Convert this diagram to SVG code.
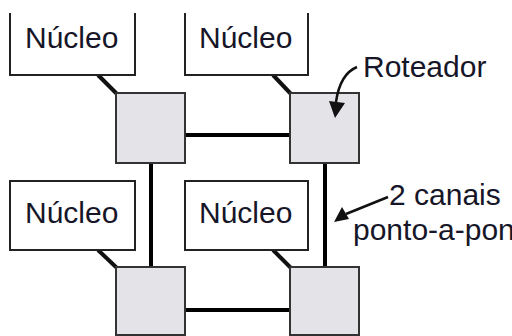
<svg xmlns="http://www.w3.org/2000/svg" width="512" height="336" viewBox="0 0 512 336">
<defs>
<style>
.core{fill:#fff;stroke:#222;stroke-width:2}
.rt{fill:#e4e3e7;stroke:#333;stroke-width:2}
.lk{stroke:#000;stroke-width:4;fill:none}
.dg{stroke:#111;stroke-width:4;fill:none}
.t{font-family:"Liberation Sans",Arial,sans-serif;font-size:30px;fill:#161628}
.ar{stroke:#111;stroke-width:2.5;fill:none}
</style>
</defs>
<rect width="512" height="336" fill="#fff"/>
<g id="connectors">
<line class="lk" x1="185" y1="135" x2="290" y2="135"/>
<line class="lk" x1="185" y1="310" x2="290" y2="310"/>
<line class="lk" x1="151" y1="163" x2="151" y2="267"/>
<line class="lk" x1="325" y1="163" x2="325" y2="267"/>
<line class="dg" x1="98" y1="75" x2="117" y2="94"/>
<line class="dg" x1="273" y1="75" x2="291" y2="94"/>
<line class="dg" x1="98" y1="250" x2="117" y2="268"/>
<line class="dg" x1="273" y1="250" x2="291" y2="268"/>
</g>
<g id="core1"><path class="core" d="M10,13 V75 H135 V13"/><text class="t" x="25" y="48">Núcleo</text></g>
<g id="core2"><path class="core" d="M185,13 V75 H308 V13"/><text class="t" x="199" y="48">Núcleo</text></g>
<g id="core3"><rect class="core" x="10" y="181" width="125" height="69"/><text class="t" x="25" y="223">Núcleo</text></g>
<g id="core4"><rect class="core" x="185" y="181" width="123" height="69"/><text class="t" x="199" y="223">Núcleo</text></g>
<g id="router1"><rect class="rt" x="116" y="93" width="69" height="70"/></g>
<g id="router2"><rect class="rt" x="290" y="93" width="69" height="70"/></g>
<g id="router3"><rect class="rt" x="116" y="267" width="69" height="68"/></g>
<g id="router4"><rect class="rt" x="290" y="267" width="69" height="68"/></g>
<g id="label-roteador">
<text class="t" x="363" y="77">Roteador</text>
<path class="ar" d="M357,67 Q340,74 336,102"/>
<polygon points="329,101 345,103 335,118" fill="#111"/>
</g>
<g id="label-canais">
<text class="t" x="389" y="205">2 canais</text>
<text class="t" x="353" y="240">ponto-a-ponto</text>
<line class="ar" x1="388" y1="197" x2="346" y2="214"/>
<polygon points="334,222 342,207 349,219" fill="#111"/>
</g>
</svg>
